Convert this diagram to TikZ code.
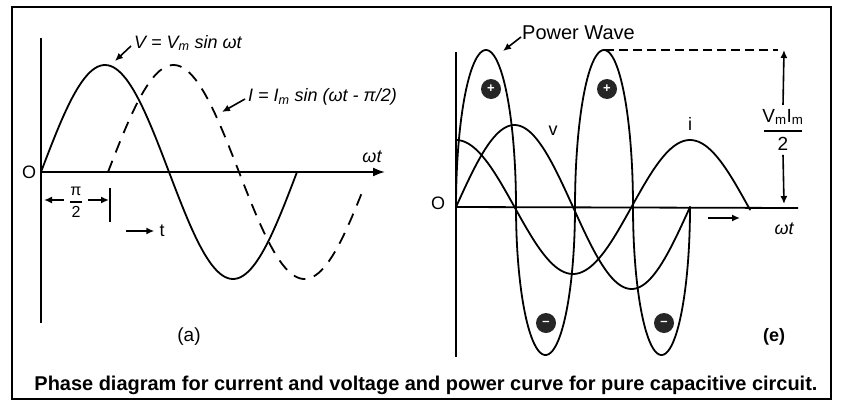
\documentclass[tikz,border=0pt]{standalone}
\usepackage{fontspec}
\usepackage{graphicx}
\setmainfont{Liberation Sans}
\usetikzlibrary{arrows.meta}
\begin{document}
\begin{tikzpicture}[x=1pt,y=-1pt,
  curve/.style={line width=1.8pt, line join=round, line cap=round},
  axisline/.style={line width=1.8pt},
  dcurve/.style={line width=1.8pt, dash pattern=on 12pt off 9pt},
  tip/.style={-{Latex[length=8pt,width=7pt]}, line width=1.6pt},
  lbl/.style={font=\fontsize{18}{20}\selectfont\itshape, inner sep=0pt},
  txt/.style={font=\fontsize{18}{20}\selectfont, inner sep=0pt},
  bar/.style={line width=1.2pt},
  disc/.style={circle, fill=black!85, text=white, font=\bfseries\fontsize{13}{13}\selectfont, minimum size=20pt, inner sep=0pt},
]
\useasboundingbox (0,0) rectangle (842,407);
\draw[line width=1.4pt] (12,7) rectangle (831,399);

% ---------- panel (a) ----------
\coordinate (oa) at (41,172);
\coordinate (vtopA) at (41,38);
\coordinate (vbotA) at (41,323);
\coordinate (xendA) at (385,172);
\draw[axisline] (vtopA) -- (vbotA);
\draw[axisline, -{Latex[length=12pt,width=9pt]}] (oa) -- (xendA);
\node[txt] (Oa) at (29,172) {O};
\node[lbl] (wta) at (372,157) {ωt};

\draw[curve] plot[domain=41:297, samples=100, smooth] (\x, {172-107*sin((\x-41)/256*360)});
\draw[dcurve] plot[domain=108:362, samples=100, smooth] (\x, {172-107*sin((\x-108)/262*360)});

\node[lbl, anchor=west] (lv) at (134,43) {V = V\textsubscript{m} sin ωt};
\coordinate (pv) at (115,61);
\draw[tip] ([shift={(-3,3)}]lv.west) -- (pv);

\node[lbl, anchor=west] (li) at (248,97) {I = I\textsubscript{m} sin (ωt - π/2)};
\coordinate (pi) at (222,112);
\draw[tip] ([shift={(-3,2)}]li.west) -- (pi);

\coordinate (tickTop) at (110,188);
\coordinate (tickBot) at (110,222);
\draw[line width=1.6pt] (tickTop) -- (tickBot);
\node[txt, font=\fontsize{16}{18}\selectfont] (hnum) at (76,191) {π};
\node[txt, font=\fontsize{16}{18}\selectfont] (hden) at (76,212) {2};
\draw[bar] (70,202) -- (82,202);
\coordinate (aL) at (44,200);
\coordinate (aR) at (109,200);
\coordinate (aLs) at (64,200);
\coordinate (aRs) at (88,200);
\draw[tip] (aLs) -- (aL);
\draw[tip] (aRs) -- (aR);

\coordinate (ts) at (126,231);
\node[txt] (tl) at (162,231) {t};
\draw[tip] (ts) -- ([xshift=-5pt]tl.west);

\node[txt, font=\fontsize{19}{21}\selectfont] (capA) at (189,337) {(a)};

% ---------- panel (e) ----------
\coordinate (oe) at (456,207);
\coordinate (vtopE) at (456,52);
\coordinate (vbotE) at (456,357);
\coordinate (xendE) at (798,208);
\draw[axisline] (vtopE) -- (vbotE);
\draw[axisline] (oe) -- (xendE);
\node[txt] (Oe) at (438,203) {O};

% voltage v
\draw[curve] plot[domain=456:690, samples=100, smooth] (\x,{207-82*sin((\x-456)/234*360)});
% current i
\draw[curve] plot[domain=456:750, samples=120, smooth] (\x,{207-67*cos((\x-456)/234*360)});
% power wave
\draw[curve]
  plot[domain=0:180, samples=60, smooth] ({486-30*cos(\x)}, {207-157*sin(\x)})
  -- plot[domain=0:180, samples=60, smooth] ({545.5-29.5*cos(\x)}, {207+148*sin(\x)})
  -- plot[domain=0:180, samples=60, smooth] ({604-29*cos(\x)}, {207-157*sin(\x)})
  -- plot[domain=0:180, samples=60, smooth] ({661.5-28.5*cos(\x)}, {207+148*sin(\x)});

\node[disc] (p1) at (491,89) {+};
\node[disc] (p2) at (607,89) {+};
\node[disc] (m1) at (546,323) {–};
\node[disc] (m2) at (664,323) {–};

\node[txt] (vlab) at (553,131) {v};
\node[txt] (ilab) at (690,124) {i};

\node[txt, anchor=west, font=\fontsize{20}{22}\selectfont] (pw) at (522,33) {Power Wave};
\coordinate (pwt) at (503,51);
\draw[tip] ([shift={(-1,4)}]pw.west) -- (pwt);

\coordinate (pk2) at (605,50);
\coordinate (dend) at (778,50);
\draw[line width=1.6pt, dash pattern=on 9pt off 5pt] (pk2) -- (dend);

\node[txt, font=\fontsize{19}{21}\selectfont] (vinum) at (783,117) {V\textsubscript{m}I\textsubscript{m}};
\node[txt, font=\fontsize{19}{21}\selectfont] (viden) at (783,144) {2};
\draw[bar] (764,131) -- (802,131);
\coordinate (vtop) at (784,50);
\coordinate (vbot) at (784,204);
\draw[tip] ([yshift=4pt]vinum.north) -- (vtop);
\draw[tip] ([yshift=-4pt]viden.south) -- (vbot);

\coordinate (ra1) at (708,218);
\coordinate (ra2) at (740,218);
\draw[tip] (ra1) -- (ra2);
\node[lbl] (wte) at (784,229) {ωt};

\node[txt, font=\bfseries\fontsize{18}{20}\selectfont] (capE) at (774,337) {(e)};

% caption
\node[inner sep=0pt] (cap) at (426,385) {\resizebox{783pt}{!}{\bfseries Phase diagram for current and voltage and power curve for pure capacitive circuit.}};
\end{tikzpicture}
\end{document}
